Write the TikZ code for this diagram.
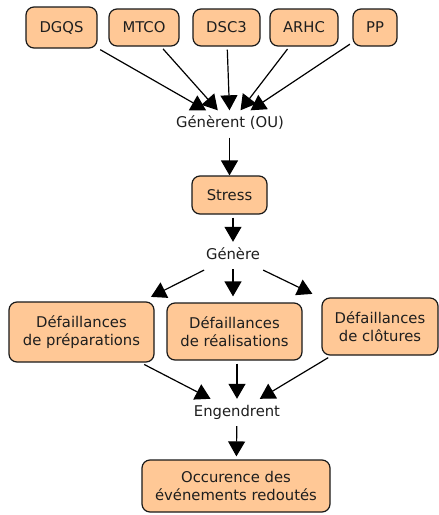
\documentclass[tikz,border=0pt]{standalone}
\usepackage{fontspec}
\setmainfont{DejaVu Sans}
\usetikzlibrary{arrows.meta}
\definecolor{peach}{RGB}{255,200,150}
\definecolor{edgec}{RGB}{25,25,25}
\definecolor{txtc}{RGB}{30,30,30}
\begin{document}
\begin{tikzpicture}[x=1pt,y=-1pt,
  box/.style={draw=edgec, line width=1.2pt, fill=peach, rounded corners=8pt,
    align=center, inner sep=0pt, text=txtc, font=\fontsize{14.8}{17.5}\selectfont},
  lbl/.style={inner xsep=3pt, inner ysep=0pt, minimum height=27pt,
    text height=10.5pt, text depth=3.5pt, text=txtc, font=\fontsize{14.8}{17.5}\selectfont},
  arr/.style={line width=1.2pt, draw=black, -{Triangle[width=17pt,length=15pt]}}]
\path[use as bounding box] (0,0) rectangle (439,515);
% top boxes
\node[box, minimum width=71pt, minimum height=41pt] (dgqs) at (61.5,27.5) {DGQS};
\node[box, minimum width=70pt, minimum height=37pt] (mtco) at (144,27.5) {MTCO};
\node[box, minimum width=67pt, minimum height=37pt] (dsc) at (226.5,27.5) {DSC3};
\node[box, minimum width=68pt, minimum height=37pt] (arhc) at (304,27.5) {ARHC};
\node[box, minimum width=44pt, minimum height=37pt] (pp) at (375,27.5) {PP};
% labels
\node[lbl] (gen1) at (230,124) {Génèrent (OU)};
\node[box, minimum width=75pt, minimum height=38pt] (stress) at (229.5,195) {Stress};
\node[lbl] (gen2) at (233,255.5) {Génère};
\node[box, minimum width=145pt, minimum height=60pt] (prep) at (81.5,332) {Défaillances\\de préparations};
\node[box, minimum width=135pt, minimum height=57pt] (real) at (234.5,331.5) {Défaillances\\de réalisations};
\node[box, minimum width=116pt, minimum height=57pt] (clot) at (380,326.5) {Défaillances\\de clôtures};
\node[lbl] (eng) at (237,412.5) {Engendrent};
\node[box, minimum width=188pt, minimum height=52pt] (occ) at (236,486) {Occurence des\\événements redoutés};
% connectors
\foreach \n in {dgqs,mtco,dsc,arhc,pp}
  \draw[arr, shorten <=3pt] (\n) -- (gen1);
\draw[arr, shorten <=0pt] (gen1.south -| stress) -- (stress);
\draw[arr, shorten <=3pt] (stress.south -| gen2) -- (gen2);
\draw[arr, shorten <=2pt, shorten >=10pt] (gen2) -- (prep);
\draw[arr, shorten >=6pt] (gen2) -- (gen2 |- real.north);
\draw[arr, shorten <=2pt, shorten >=10pt] (gen2) -- (clot);
\draw[arr, shorten <=4pt] (prep) -- (eng);
\draw[arr, shorten <=3pt] (real.south -| eng) -- (eng);
\draw[arr, shorten <=4pt] (clot) -- (eng);
\draw[arr, shorten >=3pt] (eng) -- (occ);
\end{tikzpicture}
\end{document}
